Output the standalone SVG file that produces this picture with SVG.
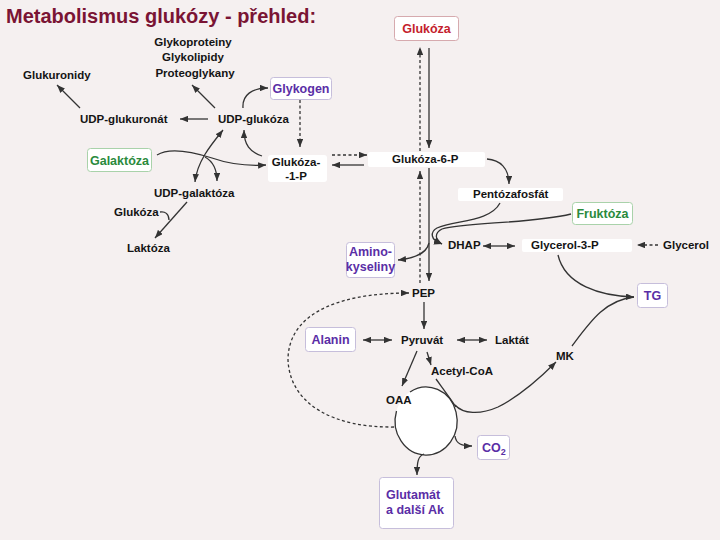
<svg xmlns="http://www.w3.org/2000/svg" width="720" height="540" viewBox="0 0 720 540">
<style>
.t{font-family:"Liberation Sans",Arial,sans-serif;font-weight:bold;font-size:11.5px;fill:#141414}
.c{font-size:12.5px}
.m{text-anchor:middle}
.red{fill:#c41e2c}.grn{fill:#2a8a3c}.pur{fill:#5a2ea6}
.bx{fill:#fff;stroke-width:1}
.br{stroke:#d6aaae}.bg{stroke:#a9d2aa}.bp{stroke:#c6bedb}
.wh{fill:#fff;stroke:none}
.ln{fill:none;stroke:#333;stroke-width:1.3}
.d{stroke-dasharray:3 2.5}
.a{marker-end:url(#ah)}
.aa{marker-start:url(#ah);marker-end:url(#ah)}
</style>
<defs>
<marker id="ah" viewBox="0 0 10 8" refX="10" refY="4" markerWidth="8" markerHeight="6.5" markerUnits="userSpaceOnUse" orient="auto-start-reverse">
<path d="M0,0 L10,4 L0,8 z" fill="#333"/>
</marker>
</defs>
<rect width="720" height="540" fill="#f5f0f0"/>
<text x="6" y="23" style="font-family:'Liberation Sans',Arial,sans-serif;font-weight:bold;font-size:20px;fill:#7a1434">Metabolismus glukózy - přehled:</text>

<g id="connectors">
<path class="ln a" d="M80,108 L57,85"/>
<path class="ln a" d="M215,108 L192,85"/>
<path class="ln a" d="M243,108 C242,95 252,88 268,88"/>
<path class="ln a" d="M208,119 L180,119"/>
<path class="ln d a" d="M300,100 L300,147"/>
<path class="ln a" d="M157,155 C168,148 190,151 212,158 C232,165 250,166 266,165"/>
<path class="ln a" d="M205,157 C214,162 217,170 217,181"/>
<path class="ln a" d="M262,156 C250,152 244,145 244,130"/>
<path class="ln aa" d="M223,130 C210,146 197,162 195,182"/>
<path class="ln d a" d="M332,155 L367,155"/>
<path class="ln a" d="M364,165 L332,165"/>
<path class="ln d a" d="M420,151 L420,47"/>
<path class="ln a" d="M429,48 L429,148"/>
<path class="ln d a" d="M420,283 L420,171"/>
<path class="ln a" d="M429,168 L429,281"/>
<path class="ln a" d="M487,159 C500,160 509,168 509,184"/>
<path class="ln a" d="M500,203 C490,222 455,220 437,228 C430,232 430,240 442,244"/>
<path class="ln a" d="M571,214 C530,224 465,222 442,229 C434,233 435,240 442,244"/>
<path class="ln aa" d="M483,246 L515,246"/>
<path class="ln d a" d="M658,245 L637,245"/>
<path class="ln a" d="M558,255 C565,285 600,296 634,297"/>
<path class="ln" d="M572,346 C590,322 605,300 634,297"/>
<path class="ln a" d="M429,243 C427,252 418,258 398,260"/>
<path class="ln d a" d="M394,427 C335,428 290,405 288,360 C288,318 330,293 409,293"/>
<path class="ln a" d="M424,302 L424,329"/>
<path class="ln aa" d="M363,340 L392,340"/>
<path class="ln aa" d="M457,340 L487,340"/>
<path class="ln a" d="M417,351 L402,386"/>
<path class="ln a" d="M427,352 L431,365"/>
<ellipse cx="426" cy="421" rx="31" ry="34" fill="#fff"/>
<path class="ln" d="M436,379 C444,390 450,398 456,407"/>
<path class="ln a" d="M455,405 C463,414 480,415 498,407 C520,396 540,378 556,362"/>
<path class="ln a" d="M455,436 C456,444 462,446 472,446"/>
<path class="ln a" d="M424,454 C418,456 417,462 417,475"/>
<path class="ln" d="M160,212 C165,211 169,214 169,220"/>
<path class="ln a" d="M187,202 L155,238"/>
<path class="ln" d="M410,392 A31,34 0 1,1 396.5,411"/>
</g>

<g id="title-nodes">
<g id="glykoproteiny"><text class="t m" x="193" y="46">Glykoproteiny</text><text class="t m" x="193" y="61">Glykolipidy</text><text class="t m" x="195" y="77">Proteoglykany</text></g>
<g id="glukuronidy"><text class="t" x="23" y="79">Glukuronidy</text></g>
<g id="udp-glukuronat"><text class="t" x="80" y="123">UDP-glukuronát</text></g>
<g id="udp-glukoza"><text class="t" x="218" y="123">UDP-glukóza</text></g>
<g id="glykogen"><rect class="bx bp" x="270.5" y="77.5" width="61" height="22" rx="3"/><text class="t c m pur" x="301" y="93">Glykogen</text></g>
<g id="galaktoza"><rect class="bx bg" x="87.5" y="148.5" width="64" height="23" rx="3"/><text class="t c m grn" x="119.5" y="164.5">Galaktóza</text></g>
<g id="glukoza-1-p"><rect class="wh" x="268" y="155" width="59" height="27" rx="3"/><text class="t m" x="296" y="166">Glukóza-</text><text class="t m" x="296" y="180">-1-P</text></g>
<g id="udp-galaktoza"><text class="t" x="154" y="197">UDP-galaktóza</text></g>
<g id="glukoza-small"><text class="t" x="114" y="216">Glukóza</text></g>
<g id="laktoza"><text class="t" x="127" y="252">Laktóza</text></g>
<g id="glukoza"><rect class="bx br" x="394.5" y="16.5" width="64" height="24" rx="3"/><text class="t c m red" x="426.5" y="33">Glukóza</text></g>
<g id="glukoza-6-p"><rect class="wh" x="368" y="152" width="117" height="15" rx="2"/><text class="t" x="392" y="163">Glukóza-6-P</text></g>
<g id="pentozafosfat"><rect class="wh" x="458" y="188" width="105" height="13" rx="2"/><text class="t" x="473" y="198">Pentózafosfát</text></g>
<g id="fruktoza"><rect class="bx bg" x="572.5" y="202.5" width="60" height="22" rx="3"/><text class="t c m grn" x="602.5" y="218">Fruktóza</text></g>
<g id="dhap"><text class="t" x="448" y="249">DHAP</text></g>
<g id="glycerol-3-p"><rect class="wh" x="522" y="239" width="110" height="13" rx="2"/><text class="t" x="531" y="249">Glycerol-3-P</text></g>
<g id="glycerol"><text class="t" x="663" y="249">Glycerol</text></g>
<g id="aminokyseliny"><rect class="bx bp" x="346.5" y="242.5" width="48" height="35" rx="3"/><text class="t c m pur" x="370.5" y="256">Amino-</text><text class="t c m pur" x="370.5" y="271">kyseliny</text></g>
<g id="tg"><rect class="bx bp" x="637.5" y="283.5" width="30" height="24" rx="3"/><text class="t c m pur" x="652.5" y="300">TG</text></g>
<g id="pep"><text class="t" x="412" y="297">PEP</text></g>
<g id="alanin"><rect class="bx bp" x="305.5" y="327.5" width="50" height="24" rx="3"/><text class="t c m pur" x="330.5" y="344">Alanin</text></g>
<g id="pyruvat"><text class="t" x="401" y="344">Pyruvát</text></g>
<g id="laktat"><text class="t" x="495" y="344">Laktát</text></g>
<g id="mk"><text class="t" x="556" y="360">MK</text></g>
<g id="acetyl-coa"><text class="t" x="431" y="375">Acetyl-CoA</text></g>
<g id="oaa"><text class="t" x="386" y="404">OAA</text></g>
<g id="co2"><rect class="bx bp" x="477.5" y="435.5" width="32" height="24" rx="3"/><text class="t c pur" x="482" y="452">CO<tspan font-size="9" dy="3">2</tspan></text></g>
<g id="glutamat"><rect class="bx bp" x="379.5" y="477.5" width="74" height="51" rx="3"/><text class="t c pur" x="386" y="499">Glutamát</text><text class="t c pur" x="386" y="514">a další Ak</text></g>
</g>
</svg>
